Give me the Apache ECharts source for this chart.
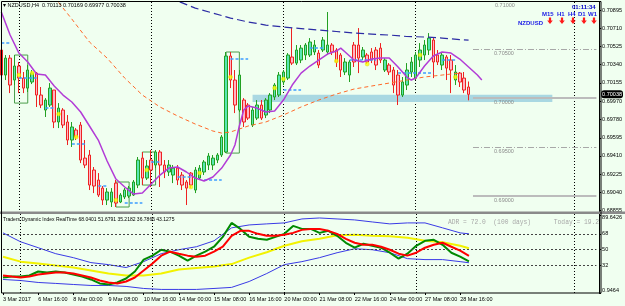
<!DOCTYPE html>
<html>
<head>
<meta charset="utf-8">
<script src="https://cdn.jsdelivr.net/npm/echarts@6/dist/echarts.min.js"></script>
<style>
  html, body { margin: 0; padding: 0; background: #f0fff0; }
  #chart { width: 625px; height: 306px; }
</style>
</head>
<body>
<div id="chart"></div>
<script>
// trading days shown on the H4 chart (first day starts at 08:00, last one only has the 00:00 bar)
var days = ['3 Mar', '6 Mar', '7 Mar', '8 Mar', '9 Mar', '10 Mar', '13 Mar', '14 Mar', '15 Mar', '16 Mar', '17 Mar',
  '20 Mar', '21 Mar', '22 Mar', '23 Mar', '24 Mar', '27 Mar', '28 Mar', '29 Mar'];
var hours = ['00:00', '04:00', '08:00', '12:00', '16:00', '20:00'];

// H4 bars: [open, close, low, high]
var candles = [
  [0.70490, 0.70235, 0.70184, 0.70541], [0.70235, 0.70408, 0.70184, 0.70439], [0.70408, 0.70133, 0.70051, 0.70439],
  [0.70184, 0.70327, 0.70133, 0.70439], [0.70327, 0.70204, 0.70051, 0.70368], [0.70204, 0.70102, 0.70051, 0.70266],
  [0.70102, 0.70286, 0.70062, 0.70337], [0.70164, 0.70255, 0.70143, 0.70286], [0.70255, 0.70031, 0.69909, 0.70266],
  [0.70031, 0.69929, 0.69898, 0.70113], [0.69878, 0.69980, 0.69807, 0.70000], [0.69929, 0.70102, 0.69909, 0.70153],
  [0.70082, 0.69756, 0.69694, 0.70082], [0.69756, 0.69898, 0.69694, 0.69949], [0.69878, 0.69725, 0.69694, 0.69898],
  [0.69756, 0.69572, 0.69521, 0.69827], [0.69572, 0.69705, 0.69501, 0.69756], [0.69674, 0.69603, 0.69572, 0.69694],
  [0.69725, 0.69368, 0.69337, 0.69756], [0.69388, 0.69317, 0.69286, 0.69572], [0.69419, 0.69113, 0.69062, 0.69470],
  [0.69266, 0.69103, 0.69031, 0.69297], [0.69164, 0.69011, 0.68991, 0.69235], [0.69082, 0.68960, 0.68909, 0.69103],
  [0.68960, 0.69042, 0.68909, 0.69082], [0.68940, 0.69042, 0.68889, 0.69082], [0.69133, 0.68929, 0.68889, 0.69164],
  [0.68940, 0.69011, 0.68929, 0.69031], [0.68991, 0.69062, 0.68970, 0.69082], [0.69001, 0.69082, 0.68980, 0.69103],
  [0.69011, 0.69144, 0.69001, 0.69164], [0.69113, 0.69368, 0.69082, 0.69399], [0.69388, 0.69184, 0.69113, 0.69450],
  [0.69184, 0.69307, 0.69164, 0.69368], [0.69368, 0.69266, 0.69093, 0.69470], [0.69317, 0.69450, 0.69286, 0.69470],
  [0.69450, 0.69317, 0.69093, 0.69470], [0.69317, 0.69246, 0.69184, 0.69368], [0.69246, 0.69317, 0.69205, 0.69368],
  [0.69215, 0.69286, 0.69133, 0.69317], [0.69286, 0.69164, 0.69113, 0.69317], [0.69215, 0.69113, 0.69062, 0.69246],
  [0.69144, 0.69082, 0.68909, 0.69164], [0.69235, 0.69113, 0.69082, 0.69246], [0.69062, 0.69266, 0.69031, 0.69297],
  [0.69184, 0.69286, 0.69164, 0.69317], [0.69246, 0.69348, 0.69215, 0.69368], [0.69317, 0.69409, 0.69266, 0.69439],
  [0.69317, 0.69388, 0.69266, 0.69419], [0.69368, 0.69419, 0.69337, 0.69439], [0.69419, 0.69603, 0.69399, 0.69623],
  [0.69450, 0.70429, 0.69439, 0.70470], [0.70429, 0.70184, 0.70102, 0.70470], [0.70184, 0.69929, 0.69847, 0.70286],
  [0.69878, 0.70235, 0.69858, 0.70286], [0.69980, 0.69756, 0.69705, 0.70000], [0.69929, 0.69796, 0.69776, 0.69949],
  [0.69725, 0.69878, 0.69705, 0.69909], [0.69796, 0.69929, 0.69776, 0.69980], [0.69929, 0.69796, 0.69776, 0.69980],
  [0.69827, 0.69980, 0.69796, 0.70000], [0.69878, 0.70031, 0.69847, 0.70051], [0.70011, 0.70133, 0.69980, 0.70153],
  [0.70031, 0.70235, 0.70011, 0.70266], [0.70164, 0.70266, 0.70133, 0.70286], [0.70204, 0.70439, 0.70184, 0.70459],
  [0.70419, 0.70357, 0.70337, 0.70714], [0.70357, 0.70490, 0.70337, 0.70541], [0.70388, 0.70510, 0.70357, 0.70541],
  [0.70439, 0.70541, 0.70388, 0.70561], [0.70439, 0.70572, 0.70419, 0.70612], [0.70470, 0.70541, 0.70439, 0.70592],
  [0.70459, 0.70337, 0.70306, 0.70490], [0.70490, 0.70592, 0.70470, 0.70623], [0.70470, 0.70541, 0.70439, 0.70878],
  [0.70541, 0.70470, 0.70439, 0.70561], [0.70490, 0.70368, 0.70317, 0.70510], [0.70439, 0.70286, 0.70215, 0.70459],
  [0.70266, 0.70368, 0.70235, 0.70408], [0.70235, 0.70368, 0.70164, 0.70388], [0.70541, 0.70368, 0.70317, 0.70572],
  [0.70541, 0.70408, 0.70255, 0.70714], [0.70419, 0.70490, 0.70388, 0.70521], [0.70439, 0.70368, 0.70347, 0.70459],
  [0.70470, 0.70388, 0.70357, 0.70510], [0.70490, 0.70337, 0.70286, 0.70521], [0.70510, 0.70388, 0.70357, 0.70561],
  [0.70286, 0.70388, 0.70266, 0.70408], [0.70337, 0.70266, 0.70235, 0.70357], [0.70286, 0.70133, 0.70051, 0.70317],
  [0.70235, 0.70031, 0.69929, 0.70286], [0.70031, 0.70164, 0.70011, 0.70215], [0.70133, 0.70286, 0.70082, 0.70357],
  [0.70266, 0.70368, 0.70215, 0.70419], [0.70204, 0.70439, 0.70184, 0.70470], [0.70388, 0.70490, 0.70317, 0.70561],
  [0.70439, 0.70541, 0.70388, 0.70592], [0.70490, 0.70612, 0.70439, 0.70663], [0.70592, 0.70368, 0.70204, 0.70623],
  [0.70439, 0.70368, 0.70337, 0.70490], [0.70337, 0.70439, 0.70286, 0.70470], [0.70419, 0.70306, 0.70184, 0.70439],
  [0.70388, 0.70286, 0.70051, 0.70439], [0.70184, 0.70266, 0.70133, 0.70337], [0.70255, 0.70164, 0.70113, 0.70266],
  [0.70204, 0.70082, 0.70051, 0.70266], [0.70113, 0.70038, 0.69977, 0.70169]
];

// moving averages on the price panel, [bar index, price]
var maFast = [[0, 0.70878], [2, 0.70643], [4, 0.70459], [6, 0.70368], [8, 0.70245], [10, 0.70235], [12, 0.70123],
  [14, 0.70031], [16, 0.69960], [18, 0.69858], [20, 0.69715], [22, 0.69572], [24, 0.69358], [26, 0.69174],
  [28, 0.69093], [30, 0.69021], [32, 0.69031], [34, 0.69123], [36, 0.69215], [38, 0.69286], [40, 0.69297],
  [42, 0.69246], [44, 0.69184], [46, 0.69154], [48, 0.69195], [50, 0.69286], [52, 0.69419], [53, 0.69521],
  [54, 0.69715], [55, 0.69878], [56, 0.69919], [58, 0.69898], [60, 0.69858], [62, 0.69868], [64, 0.69980],
  [66, 0.70133], [68, 0.70255], [70, 0.70327], [72, 0.70388], [74, 0.70449], [76, 0.70480], [77, 0.70510],
  [78, 0.70470], [80, 0.70388], [82, 0.70368], [84, 0.70398], [86, 0.70408], [88, 0.70408], [90, 0.70317],
  [92, 0.70215], [93, 0.70184], [94, 0.70204], [96, 0.70327], [98, 0.70429], [100, 0.70470], [102, 0.70459],
  [104, 0.70398], [106, 0.70317], [108, 0.70235], [109, 0.70184]];
var maSlow = [[12, 0.71031], [16, 0.70806], [20, 0.70572], [24, 0.70408], [28, 0.70204], [32, 0.70031],
  [36, 0.69909], [40, 0.69817], [44, 0.69735], [48, 0.69664], [50, 0.69643], [52, 0.69654], [56, 0.69715],
  [60, 0.69756], [64, 0.69827], [68, 0.69909], [72, 0.69980], [76, 0.70041], [80, 0.70092], [84, 0.70123],
  [88, 0.70153], [92, 0.70184], [96, 0.70215], [100, 0.70235], [104, 0.70255]];
var maLong = [[38, 0.71031], [40, 0.70990], [44, 0.70918], [48, 0.70867], [52, 0.70816], [56, 0.70776],
  [60, 0.70745], [64, 0.70725], [68, 0.70709], [72, 0.70694], [76, 0.70679], [80, 0.70663], [84, 0.70653],
  [88, 0.70643], [92, 0.70628], [96, 0.70623], [100, 0.70612], [104, 0.70597], [106, 0.70592]];

// Traders Dynamic Index lines, [bar index, value]
var tdiUpper = [[0, 69.1], [4, 59], [8, 52.3], [12, 45.5], [16, 41], [20, 35.4], [24, 33.1], [28, 29.8], [32, 36.5],
  [36, 45.5], [40, 50], [44, 53.4], [48, 60.1], [52, 74.8], [56, 78.1], [60, 79.3], [64, 80.4], [68, 84.9], [72, 86],
  [76, 84.9], [80, 83.8], [84, 81.5], [88, 79.3], [92, 80.4], [96, 80.4], [100, 74.8], [104, 69.1], [106, 68.04]];
var tdiLower = [[0, 16.3], [4, 15.1], [8, 12.9], [12, 11.8], [16, 10.6], [20, 9.5], [24, 9.5], [28, 8.4], [32, 6.1],
  [36, 5], [40, 5], [44, 5], [48, 6.1], [52, 7.3], [56, 14], [60, 23], [64, 33.1], [68, 36.5], [72, 41], [76, 46.6],
  [80, 51.1], [84, 50], [88, 46.6], [92, 39.9], [96, 38.8], [100, 38.8], [104, 36.5], [106, 35.22]];
var tdiBase = [[0, 42.1], [4, 36.5], [8, 34.3], [12, 32], [16, 29.8], [20, 26.4], [24, 23], [28, 20.8], [32, 20.8],
  [36, 23], [40, 27.5], [44, 29.2], [48, 30.9], [52, 33.7], [56, 41], [60, 47.2], [64, 54.5], [68, 59.6], [72, 62.4],
  [76, 66.3], [80, 66.9], [84, 65.8], [88, 65.2], [92, 63.5], [96, 60.1], [100, 58.4], [104, 54.5], [106, 51.68]];
var tdiPrice = [[0, 18.5], [2, 19.6], [4, 19.6], [6, 20.8], [8, 25.3], [10, 24.1], [12, 25.3], [14, 24.1], [16, 21.9],
  [18, 19.6], [20, 16.3], [22, 11.8], [24, 10.6], [26, 12.9], [28, 17.4], [30, 25.3], [32, 38.8], [34, 43.3], [36, 50],
  [38, 47.8], [40, 43.3], [42, 37.6], [44, 43.3], [46, 47.8], [48, 53.4], [50, 64.6], [52, 80.4], [54, 73.6],
  [56, 64.6], [58, 62.4], [60, 61.3], [62, 64.6], [64, 68], [66, 77], [68, 73.6], [70, 73.6], [72, 69.1], [74, 71.4],
  [76, 65.8], [78, 57.9], [80, 52.3], [82, 56.8], [84, 54.5], [86, 52.3], [88, 46.6], [90, 39.9], [92, 45.5],
  [94, 54.5], [96, 60.1], [98, 61.3], [100, 55.6], [102, 46.6], [104, 42.1], [106, 36.79]];
var tdiSignal = [[0, 20.8], [2, 19.6], [4, 18.5], [6, 19.6], [8, 21.9], [10, 23], [12, 24.1], [14, 24.1], [16, 23],
  [18, 20.8], [20, 18.5], [22, 15.1], [24, 12.9], [26, 11.8], [28, 14], [30, 18.5], [32, 26.4], [34, 34.3],
  [36, 43.3], [38, 47.8], [40, 45.5], [42, 43.3], [44, 42.1], [46, 43.3], [48, 47.8], [50, 53.4], [52, 65.8],
  [54, 71.4], [56, 71.4], [58, 68], [60, 65.8], [62, 65.8], [64, 66.9], [66, 69.1], [68, 72.5], [70, 73.6],
  [72, 73.6], [74, 71.4], [76, 68], [78, 62.4], [80, 57.9], [82, 55.6], [84, 55.6], [86, 53.4], [88, 50],
  [90, 45.5], [92, 43.3], [94, 46.6], [96, 52.3], [98, 55.6], [100, 57.9], [102, 53.4], [104, 48.9], [106, 43.13]];

var priceTicks = [0.68855, 0.69040, 0.69225, 0.69410, 0.69595, 0.69780, 0.69970, 0.70155, 0.70340, 0.70525, 0.70710, 0.70895];
var tdiTicks = [0.9464, 32, 50, 68, 89.6426];
var tdiLevels = [68, 50, 32];
var levels = [0.70500, 0.70000, 0.69500, 0.69000];
var levelKinds = ['dashdot', 'solid', 'dashdot', 'solid'];
var offLevel = '0.71000';   // level just above the visible range, only its caption shows
var lastPrice = 0.70038;

// yellow signal dots, [bar index, price]
var signalDots = [[4, 0.70235], [7, 0.70255], [13, 0.69837], [17, 0.69603], [26, 0.68960], [33, 0.69266],
  [43, 0.69093], [45, 0.69235], [52, 0.70215], [62, 0.70102], [64, 0.70194], [76, 0.70378], [83, 0.70347],
  [95, 0.70439], [103, 0.70215]];
// short blue level ticks, [from bar, to bar, price]
var pivotTicks = [[0, 2, 0.70561], [4, 8, 0.70204], [10, 12, 0.69898], [16, 19, 0.69531], [22, 24, 0.69103],
  [28, 32, 0.68929], [34, 36, 0.69348], [40, 43, 0.69195], [46, 50, 0.69164], [52, 56, 0.70398], [64, 68, 0.70082],
  [70, 73, 0.70510], [79, 85, 0.70388], [90, 98, 0.70255], [100, 103, 0.70388]];
// range boxes, [from bar, to bar, top, bottom]
var boxes = [[3, 6, 0.70439, 0.69949], [26, 29, 0.69144, 0.68889], [32, 35, 0.69450, 0.69113], [51, 54, 0.70470, 0.69439]];
// support zone, [from bar, to bar, top, bottom]
var zone = [57, 125, 0.70035, 0.69959];
// weekly separators (bar index)
var separators = [4, 34, 64, 94, 130];

var SLOTS = 136;
var categories = [];
days.forEach(function (d, k) {
  hours.forEach(function (h, j) {
    if (k === 0 && j < 2) return;
    if (k === days.length - 1 && j > 0) return;
    categories.push(d + ' ' + h);
  });
});
while (categories.length < SLOTS) categories.push('');

var FONT = "'Liberation Sans', Arial, sans-serif";
var MONO = "'Liberation Mono', 'DejaVu Sans Mono', monospace";
var isLabelBar = function (idx) { return idx % 8 === 0 && idx < candles.length; };
var isSeparator = function (idx) { return separators.indexOf(idx) >= 0; };

var levelLines = levels.map(function (lv, k) {
  var style = levelKinds[k] === 'solid'
    ? { color: '#bcbcbc', width: 2, type: 'solid' }
    : { color: '#a8a8a8', width: 1, type: [6, 2, 1, 2] };
  return [
    { coord: [107, lv], lineStyle: style,
      label: { show: true, formatter: lv.toFixed(5), position: 'insideStartBottom', color: '#8c8c8c',
        fontSize: 5.5, fontFamily: FONT, padding: [0, 0, 0, 20], distance: 1 } },
    { coord: [SLOTS - 1, lv] }
  ];
});

var tickLines = pivotTicks.map(function (t) {
  return [{ coord: [t[0], t[2]] }, { coord: [t[1], t[2]] }];
});

var boxAreas = boxes.map(function (b) {
  return [{ coord: [b[0], b[2]] }, { coord: [b[1], b[3]] }];
});

var chart = echarts.init(document.getElementById('chart'));

var graphics = [
  { type: 'rect', shape: { x: 0, y: 211.5, width: 625, height: 2.5 }, style: { fill: '#8a8a8a' }, z: 10 },
  { type: 'rect', shape: { x: 1.5, y: 1.5, width: 599.5, height: 291.5 }, style: { fill: 'none', stroke: '#000', lineWidth: 1 }, z: 10 },
  { type: 'text', x: 3, y: 5, z: 11, style: { text: '\u25BE NZDUSD,H4  0.70113 0.70169 0.69977 0.70038', fill: '#000',
    font: '5.5px ' + FONT, verticalAlign: 'middle' } },
  { type: 'text', x: 495, y: 5, z: 11, style: { text: offLevel, fill: '#8c8c8c', font: '5.5px ' + FONT, verticalAlign: 'middle' } },
  { type: 'text', x: 3, y: 219.5, z: 11, style: { text: 'Traders Dynamic Index RealTime 68.0401 51.6791 35.2182 36.7866 43.1275',
    fill: '#000', font: '5px ' + FONT, verticalAlign: 'middle' } },
  { type: 'text', x: 448, y: 222, z: 11, style: { text: 'ADR = 72.0  (100 days)      Today = 19.2', fill: '#a8a8a8',
    font: '6.3px ' + MONO, verticalAlign: 'middle' } },
  { type: 'text', x: 572, y: 7, z: 11, style: { text: '01:11:34', fill: '#0000c8', font: 'bold 6px ' + FONT, verticalAlign: 'middle' } },
  { type: 'text', x: 518, y: 23, z: 11, style: { text: 'NZDUSD', fill: '#1a1ae6', font: 'bold 6px ' + FONT, verticalAlign: 'middle' } }
];
var tfNames = ['M15', 'H1', 'H4', 'D1', 'W1'];
var tfX = [542, 557, 568, 578, 588];
var arrowX = [550, 562, 573, 584, 594];
tfNames.forEach(function (name, k) {
  graphics.push({ type: 'text', x: tfX[k], y: 14, z: 11, style: { text: name, fill: '#1a1ae6',
    font: 'bold 6px ' + FONT, verticalAlign: 'middle' } });
  var cx = arrowX[k];
  graphics.push({ type: 'polygon', z: 11, shape: { points: [[cx - 1.1, 17.5], [cx + 1.1, 17.5], [cx + 1.1, 20.5],
    [cx + 2.8, 20.5], [cx, 24], [cx - 2.8, 20.5], [cx - 1.1, 20.5]] }, style: { fill: '#ff1a1a' } });
});

chart.setOption({
  animation: false,
  backgroundColor: '#f0fff0',
  grid: [
    { left: 1.3, right: 26.7, top: 2, height: 210 },
    { left: 1.3, right: 26.7, top: 214, height: 79 }
  ],
  xAxis: [
    { gridIndex: 0, type: 'category', data: categories, boundaryGap: false,
      axisLine: { show: false }, axisTick: { show: false }, axisLabel: { show: false },
      splitLine: { show: true, interval: isSeparator, lineStyle: { color: '#000', type: [1, 2], width: 1 } } },
    { gridIndex: 1, type: 'category', data: categories, boundaryGap: false,
      axisLine: { show: false },
      axisTick: { show: true, interval: isLabelBar, length: 2, lineStyle: { color: '#000' } },
      axisLabel: { interval: isLabelBar, align: 'left', margin: 3, fontSize: 5.5, fontFamily: FONT, color: '#000',
        formatter: function (v, idx) { return idx === 0 ? '3 Mar 2017' : v; } },
      splitLine: { show: true, interval: isSeparator, lineStyle: { color: '#000', type: [1, 2], width: 1 } } }
  ],
  yAxis: [
    { gridIndex: 0, type: 'value', position: 'right', offset: 2.7, min: 0.68838, max: 0.70980,
      axisLine: { show: true, lineStyle: { color: '#000' } },
      axisTick: { show: true, length: 2, customValues: priceTicks, lineStyle: { color: '#000' } },
      axisLabel: { customValues: priceTicks, margin: 3, fontSize: 5.5, fontFamily: FONT, color: '#000',
        formatter: function (v) { return v.toFixed(5); } },
      splitLine: { show: false },
      axisPointer: { show: true, value: lastPrice, status: 'show', triggerTooltip: false, snap: false,
        lineStyle: { opacity: 0 },
        label: { show: true, precision: 5, backgroundColor: '#000', color: '#fff', fontSize: 5.5, fontFamily: FONT,
          padding: [1, 1], margin: 2 } } },
    { gridIndex: 1, type: 'value', position: 'right', offset: 2.7, min: 0.9464, max: 90.5,
      axisLine: { show: true, lineStyle: { color: '#000' } },
      axisTick: { show: true, length: 2, customValues: tdiTicks, lineStyle: { color: '#000' } },
      axisLabel: { customValues: tdiTicks, margin: 3, fontSize: 5.5, fontFamily: FONT, color: '#000',
        verticalAlignMaxLabel: 'top', verticalAlignMinLabel: 'bottom',
        formatter: function (v) { return String(v); } },
      splitLine: { show: false } }
  ],
  graphic: graphics,
  series: [
    { type: 'line', xAxisIndex: 0, yAxisIndex: 0, data: [], z: 1, silent: true,
      markArea: { silent: true, itemStyle: { color: '#a9d8e2' },
        data: [[{ coord: [zone[0], zone[2]] }, { coord: [zone[1], zone[3]] }]] } },
    { type: 'line', xAxisIndex: 0, yAxisIndex: 0, data: [], z: 2, silent: true,
      markLine: { silent: true, symbol: 'none', data: levelLines } },
    { type: 'line', xAxisIndex: 0, yAxisIndex: 0, data: [], z: 2, silent: true,
      markArea: { silent: true, itemStyle: { color: 'rgba(0,0,0,0)', borderColor: '#4a9e4a', borderWidth: 1 },
        data: boxAreas } },
    { type: 'candlestick', xAxisIndex: 0, yAxisIndex: 0, data: candles, barWidth: 3, z: 3,
      itemStyle: { color: '#58e6b4', color0: '#ffb6c4', borderColor: '#22a022', borderColor0: '#ee2222', borderWidth: 1 } },
    { type: 'line', xAxisIndex: 0, yAxisIndex: 0, data: [], z: 4, silent: true,
      markLine: { silent: true, symbol: 'none', label: { show: false },
        lineStyle: { color: '#3d9dff', width: 1.5, type: [3, 2] }, data: tickLines } },
    { type: 'line', xAxisIndex: 0, yAxisIndex: 0, data: maSlow, showSymbol: false, z: 5,
      lineStyle: { color: '#ff6a2a', width: 1, type: [4, 3] } },
    { type: 'line', xAxisIndex: 0, yAxisIndex: 0, data: maLong, showSymbol: false, z: 5,
      lineStyle: { color: '#2c2ca4', width: 1.2, type: [8, 4] } },
    { type: 'line', xAxisIndex: 0, yAxisIndex: 0, data: maFast, showSymbol: false, z: 6,
      lineStyle: { color: '#b23cd6', width: 1.5 } },
    { type: 'scatter', xAxisIndex: 0, yAxisIndex: 0, data: signalDots, symbolSize: 4, z: 7,
      itemStyle: { color: '#ffff00', borderColor: '#d4d400', borderWidth: 0.5 } },

    { type: 'line', xAxisIndex: 1, yAxisIndex: 1, data: tdiUpper, showSymbol: false, z: 3,
      lineStyle: { color: '#3a3ae6', width: 1 },
      markLine: { silent: true, symbol: 'none', label: { show: false },
        lineStyle: { color: '#444', width: 1, type: [2, 2] },
        data: tdiLevels.map(function (v) { return { yAxis: v }; }) } },
    { type: 'line', xAxisIndex: 1, yAxisIndex: 1, data: tdiLower, showSymbol: false, z: 3,
      lineStyle: { color: '#3a3ae6', width: 1 } },
    { type: 'line', xAxisIndex: 1, yAxisIndex: 1, data: tdiBase, showSymbol: false, z: 3,
      lineStyle: { color: '#f2f200', width: 2 } },
    { type: 'line', xAxisIndex: 1, yAxisIndex: 1, data: tdiPrice, showSymbol: false, z: 4,
      lineStyle: { color: '#008a00', width: 2 } },
    { type: 'line', xAxisIndex: 1, yAxisIndex: 1, data: tdiSignal, showSymbol: false, z: 5,
      lineStyle: { color: '#ff0000', width: 2 } }
  ]
});
</script>
</body>
</html>
